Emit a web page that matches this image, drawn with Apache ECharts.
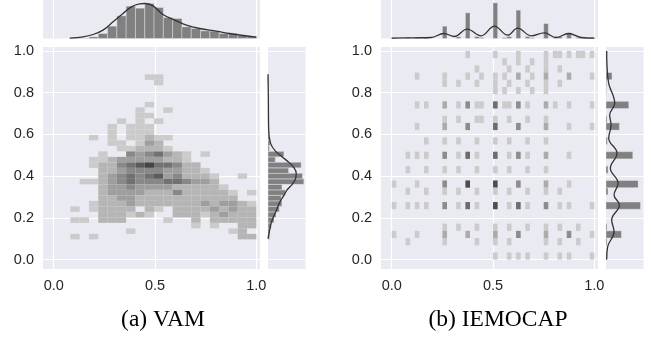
<!DOCTYPE html>
<html>
<head>
<meta charset="utf-8">
<script src="https://cdn.jsdelivr.net/npm/echarts@6/dist/echarts.min.js"></script>
<style>
  html, body { margin: 0; padding: 0; background: #fff; }
  #chart { width: 651px; height: 337px; }
</style>
</head>
<body>
<div id="chart"></div>
<script>
// ---- VAM: 2d histogram bins (x: 20 bins, y: 30 bins) ----
const vamXStart = 0.082, vamXWidth = 0.0459;
const vamYStart = 0.097, vamYHeight = 0.02636;
// [xBin, yBin, count level]
const vamCells = [
  [8,29,1],[9,29,1],[9,28,1],[8,24,1],[7,23,1],[10,23,1],[7,22,1],[8,22,1],
  [5,21,1],[7,21,1],[9,21,1],[4,20,1],[6,20,1],[7,20,1],[8,20,1],
  [4,19,1],[6,19,1],[7,19,1],[8,19,1],
  [2,18,1],[4,18,1],[6,18,1],[7,18,1],[8,18,2],[9,18,1],[10,18,1],
  [4,17,1],[5,17,1],[7,17,1],[8,17,3],[9,17,2],
  [5,16,1],[6,16,1],[7,16,2],[8,16,2],[9,16,2],[10,16,1],
  [3,15,1],[6,15,4],[7,15,3],[8,15,4],[9,15,5],[10,15,3],[11,15,2],[12,15,1],[14,15,1],
  [2,14,1],[3,14,1],[4,14,2],[5,14,3],[6,14,3],[7,14,3],[8,14,3],[9,14,3],[10,14,2],[11,14,2],[12,14,1],
  [2,13,1],[3,13,2],[4,13,2],[5,13,4],[6,13,5],[7,13,6],[8,13,7],[9,13,5],[10,13,5],[11,13,4],[12,13,2],[13,13,2],
  [3,12,2],[4,12,2],[5,12,3],[6,12,4],[7,12,4],[8,12,4],[9,12,4],[10,12,3],[11,12,3],[12,12,2],[13,12,2],[14,12,1],
  [3,11,2],[4,11,3],[5,11,4],[6,11,5],[7,11,4],[8,11,5],[9,11,6],[10,11,3],[11,11,4],[12,11,2],[13,11,2],[14,11,2],[15,11,1],[18,11,1],
  [1,10,1],[2,10,1],[3,10,2],[4,10,3],[5,10,4],[6,10,5],[7,10,4],[8,10,4],[9,10,4],[10,10,5],[11,10,5],[12,10,4],[13,10,3],[14,10,3],[15,10,2],
  [3,9,2],[4,9,3],[5,9,3],[6,9,4],[7,9,3],[8,9,3],[9,9,3],[10,9,3],[11,9,2],[12,9,2],[13,9,2],[14,9,2],[15,9,2],[16,9,1],
  [3,8,2],[4,8,3],[5,8,3],[6,8,3],[7,8,3],[8,8,2],[9,8,2],[10,8,2],[11,8,4],[12,8,2],[13,8,2],[14,8,2],[15,8,2],[16,8,2],[17,8,1],[19,8,1],
  [3,7,2],[4,7,2],[5,7,3],[6,7,3],[7,7,2],[8,7,2],[9,7,2],[10,7,2],[11,7,2],[12,7,2],[13,7,2],[14,7,2],[15,7,2],[16,7,2],[17,7,2],
  [2,6,1],[3,6,2],[4,6,2],[5,6,2],[6,6,3],[7,6,2],[8,6,2],[9,6,2],[10,6,2],[11,6,2],[12,6,2],[13,6,2],[14,6,3],[15,6,2],[16,6,3],[17,6,3],[18,6,2],[19,6,1],
  [0,5,1],[2,5,1],[3,5,2],[4,5,2],[5,5,2],[6,5,2],[8,5,2],[9,5,1],[11,5,2],[12,5,2],[13,5,2],[14,5,2],[15,5,3],[16,5,2],[17,5,3],[18,5,2],[19,5,2],
  [3,4,2],[4,4,2],[5,4,2],[6,4,1],[7,4,2],[8,4,1],[11,4,2],[12,4,2],[13,4,2],[14,4,1],[15,4,2],[16,4,3],[17,4,2],[18,4,2],[19,4,2],
  [0,3,1],[1,3,1],[3,3,2],[4,3,2],[5,3,2],[10,3,1],[13,3,2],[15,3,2],[16,3,2],[17,3,2],[18,3,2],[19,3,2],
  [13,2,1],[15,2,1],[18,2,2],[19,2,2],
  [6,1,1],[17,1,1],[18,1,2],
  [0,0,1],[2,0,1],[18,0,2],[19,0,2]
];
// marginal histograms (one value per bin)
const vamTopCounts = [1, 1, 5, 15, 37, 68, 97, 91, 105, 93, 63, 60, 35, 30, 23, 22, 15, 15, 9, 7];
const vamSideCounts = [5, 6, 10, 18, 24, 34, 42, 40, 52, 42, 108, 104, 62, 100, 22, 48, 4, 6, 3, 2, 2, 1, 1, 1, 1, 0, 0, 0, 1, 1];
// kde curves: [x, density] and [density, y]
const vamTopKde = [[0.079,1],[0.145,5],[0.194,12],[0.243,25],[0.293,50],[0.342,75],[0.383,95],[0.424,104],[0.449,105],
  [0.490,98],[0.539,72],[0.605,53],[0.655,40],[0.720,30],[0.803,22],[0.868,15],[0.934,9],[1.0,4]];
const vamSideKde = [[0,0.888],[1,0.78],[2,0.62],[8,0.556],[23,0.519],[43,0.492],[63,0.466],[78,0.441],[85,0.414],
  [83,0.388],[73,0.361],[58,0.335],[48,0.308],[38,0.283],[30,0.256],[24,0.230],[16,0.203],[10,0.177],[6,0.150],[0,0.101]];

// ---- IEMOCAP: 2d histogram bins (x: 44 bins, y: 29 bins) ----
const iemXStart = 0, iemXWidth = 1 / 44;
const iemYStart = 0, iemYHeight = 1 / 29;
const iemCells = [
  [16,28,1],[22,28,1],[27,28,1],[33,28,1],[35,28,1],[36,28,1],[38,28,1],[40,28,1],[41,28,1],[43,28,1],
  [24,27,1],[27,27,1],[30,27,1],[33,27,1],
  [18,26,1],[25,26,1],[29,26,1],[33,26,1],[36,26,1],
  [5,25,1],[11,25,1],[16,25,1],[19,25,1],[22,25,1],[24,25,1],[27,25,2],[30,25,1],[33,25,2],[38,25,2],[43,25,1],
  [11,24,1],[14,24,1],[18,24,1],[22,24,1],[25,24,1],[29,24,1],[33,24,1],[36,24,1],
  [22,23,1],[24,23,1],[27,23,1],[30,23,1],[33,23,1],
  [5,21,1],[7,21,1],[11,21,2],[14,21,1],[16,21,3],[18,21,1],[19,21,1],[22,21,4],[24,21,1],[25,21,1],[27,21,3],[29,21,1],[33,21,2],[35,21,1],[38,21,1],[43,21,1],
  [11,19,1],[14,19,1],[18,19,1],[19,19,1],[22,19,1],[25,19,1],[29,19,1],[33,19,1],
  [5,18,1],[11,18,2],[16,18,3],[22,18,4],[27,18,3],[33,18,2],[38,18,1],[43,18,1],
  [7,16,1],[11,16,1],[14,16,1],[18,16,1],[22,16,1],[25,16,1],[29,16,1],[33,16,1],
  [3,14,1],[5,14,1],[7,14,1],[11,14,3],[14,14,1],[16,14,4],[18,14,1],[22,14,4],[25,14,1],[27,14,3],[29,14,1],[33,14,2],[38,14,1],
  [3,12,1],[7,12,1],[11,12,1],[14,12,1],[18,12,1],[22,12,1],[25,12,1],[29,12,1],[33,12,1],
  [0,10,1],[5,10,1],[11,10,3],[16,10,5],[22,10,5],[27,10,3],[33,10,2],[38,10,1],
  [3,9,1],[7,9,1],[11,9,1],[14,9,1],[18,9,1],[22,9,1],[25,9,1],[29,9,1],[33,9,1],[36,9,1],
  [0,7,1],[3,7,1],[5,7,1],[7,7,1],[11,7,3],[14,7,1],[16,7,4],[18,7,1],[22,7,5],[25,7,1],[27,7,4],[29,7,1],[33,7,3],[36,7,1],[38,7,1],[43,7,1],
  [11,4,1],[14,4,1],[18,4,1],[22,4,1],[25,4,1],[29,4,1],[33,4,1],[36,4,1],[40,4,1],
  [0,3,1],[5,3,1],[11,3,2],[16,3,2],[22,3,2],[27,3,3],[33,3,2],[38,3,3],[43,3,1],
  [3,2,1],[11,2,1],[18,2,1],[22,2,1],[25,2,1],[33,2,1],[36,2,1],[40,2,1],
  [22,0,1],[25,0,1],[27,0,1],[29,0,1],[33,0,1],[36,0,1],[38,0,1],[43,0,1]
];
const iemTopCounts = [2,0,0,3,0,4,0,3,0,0,0,37,0,0,5,0,77,0,6,3,0,0,107,0,3,6,0,85,0,6,2,0,0,45,0,2,5,0,17,0,2,1,0,3];
const iemSideCounts = [3,0,3,46,3,0,0,103,0,6,96,0,6,0,80,0,4,0,40,3,0,68,0,1,2,18,1,1,3];
const iemTopKde = [[0,1],[0.112,2],[0.194,3],[0.257,15],[0.309,6],[0.372,28],[0.441,8],[0.507,37],[0.572,10],
  [0.622,31],[0.688,8],[0.753,17],[0.811,3],[0.873,15],[0.934,3],[1.0,1]];
const iemSideKde = [[2,1.0],[3,0.93],[8,0.845],[26,0.749],[11,0.693],[15,0.645],[8,0.582],[33,0.510],[13,0.438],
  [36,0.366],[24,0.310],[40,0.262],[17,0.190],[24,0.134],[5,0.062],[2,0.0]];

const xTicks = [0, 0.5, 1];
const yTicks = [0, 0.2, 0.4, 0.6, 0.8, 1];
const captions = ['(a) VAM', '(b) IEMOCAP'];

// ---------------------------------------------------------------
const chart = echarts.init(document.getElementById('chart'));
const BG = '#EAEAF2';
const LO = -0.053, HI = 1.018, YLO = -0.045, YHI = 1.019;
const labelStyle = { fontFamily: 'Liberation Sans, Arial', fontSize: 14.5, color: '#262626' };
const white = { show: true, lineStyle: { color: '#fff', width: 1.2 } };

function grid(left, top, width, height) {
  return { left, top, width, height, show: true, backgroundColor: BG, borderWidth: 0, containLabel: false };
}
function valAxis(gi, min, max, ticks, showLabel) {
  return {
    type: 'value', gridIndex: gi, min, max,
    axisLine: { show: false, onZero: false },
    axisTick: { show: false, customValues: ticks || [] },
    splitLine: ticks ? white : { show: false },
    axisLabel: ticks && showLabel ? Object.assign({ customValues: ticks, margin: 9,
      formatter: v => v.toFixed(1) }, labelStyle) : { show: false }
  };
}
function cellItem(x0, xw, y0, yh) {
  return function (params, api) {
    const i = api.value(0), j = api.value(1);
    const a = api.coord([x0 + i * xw, y0 + (j + 1) * yh]);
    const b = api.coord([x0 + (i + 1) * xw, y0 + j * yh]);
    return { type: 'rect', shape: { x: a[0], y: a[1], width: b[0] - a[0], height: b[1] - a[1] },
      style: { fill: api.visual('color') } };
  };
}
function colItem(x0, xw) {
  return function (params, api) {
    const i = api.value(0), h = api.value(1);
    const a = api.coord([x0 + i * xw, h]);
    const b = api.coord([x0 + (i + 1) * xw, 0]);
    return { type: 'rect', shape: { x: a[0], y: a[1], width: b[0] - a[0], height: b[1] - a[1] },
      style: { fill: '#808080', stroke: 'rgba(234,234,242,0.7)', lineWidth: 0.6 } };
  };
}
function rowItem(y0, yh) {
  return function (params, api) {
    const j = api.value(0), w = api.value(1);
    const a = api.coord([0, y0 + (j + 1) * yh]);
    const b = api.coord([w, y0 + j * yh]);
    return { type: 'rect', shape: { x: a[0], y: a[1], width: b[0] - a[0], height: b[1] - a[1] },
      style: { fill: '#808080', stroke: 'rgba(234,234,242,0.7)', lineWidth: 0.6 } };
  };
}
const pairs = arr => arr.map((v, i) => [i, v]).filter(p => p[1] > 0);
function kde(xi, yi, data) {
  return { type: 'line', xAxisIndex: xi, yAxisIndex: yi, data, smooth: 0.4, symbol: 'none',
    lineStyle: { color: '#333', width: 1.3 }, silent: true, z: 5 };
}

chart.setOption({
  animation: false,
  backgroundColor: '#fff',
  title: captions.map((t, i) => ({
    text: t, left: i === 0 ? 158 : 493, top: 303, textAlign: 'center',
    textStyle: { fontFamily: 'Liberation Serif, Times New Roman', fontSize: 23.5, fontWeight: 'normal', color: '#000' }
  })),
  grid: [
    grid(43, 47, 217, 222), grid(43, 0, 217, 38.5), grid(268, 47, 37.5, 222),
    grid(381, 47, 217, 222), grid(381, 0, 217, 38.5), grid(606, 47, 37.5, 222)
  ],
  xAxis: [
    valAxis(0, LO, HI, xTicks, true), valAxis(1, LO, HI, xTicks, false), valAxis(2, 0, 113, null),
    valAxis(3, LO, HI, xTicks, true), valAxis(4, LO, HI, xTicks, false), valAxis(5, 0, 112, null)
  ],
  yAxis: [
    valAxis(0, YLO, YHI, yTicks, true), valAxis(1, 0, 115.5, null), valAxis(2, YLO, YHI, yTicks, false),
    valAxis(3, YLO, YHI, yTicks, true), valAxis(4, 0, 115.5, null), valAxis(5, YLO, YHI, yTicks, false)
  ],
  visualMap: [
    { show: false, seriesIndex: 0, dimension: 2, min: 1, max: 7, inRange: { color: ['#cbcbcb', '#444444'] } },
    { show: false, seriesIndex: 5, dimension: 2, min: 1, max: 5, inRange: { color: ['#cbcbcb', '#4c4c4c'] } }
  ],
  series: [
    { type: 'custom', xAxisIndex: 0, yAxisIndex: 0, data: vamCells, renderItem: cellItem(vamXStart, vamXWidth, vamYStart, vamYHeight), silent: true },
    { type: 'custom', xAxisIndex: 1, yAxisIndex: 1, data: pairs(vamTopCounts), renderItem: colItem(vamXStart, vamXWidth), silent: true },
    { type: 'custom', xAxisIndex: 2, yAxisIndex: 2, data: pairs(vamSideCounts), renderItem: rowItem(vamYStart, vamYHeight), silent: true },
    kde(1, 1, vamTopKde),
    kde(2, 2, vamSideKde),
    { type: 'custom', xAxisIndex: 3, yAxisIndex: 3, data: iemCells, renderItem: cellItem(iemXStart, iemXWidth, iemYStart, iemYHeight), silent: true },
    { type: 'custom', xAxisIndex: 4, yAxisIndex: 4, data: pairs(iemTopCounts), renderItem: colItem(iemXStart, iemXWidth), silent: true },
    { type: 'custom', xAxisIndex: 5, yAxisIndex: 5, data: pairs(iemSideCounts), renderItem: rowItem(iemYStart, iemYHeight), silent: true },
    kde(4, 4, iemTopKde),
    kde(5, 5, iemSideKde)
  ]
});
</script>
</body>
</html>
